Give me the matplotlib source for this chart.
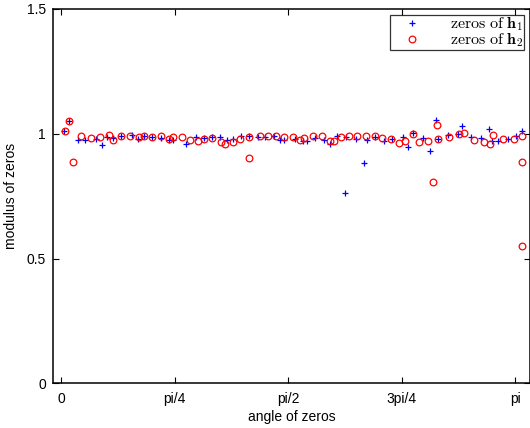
import numpy as np
import matplotlib
matplotlib.use("Agg")
import matplotlib.pyplot as plt

plt.rcParams['font.family'] = ['Liberation Sans', 'DejaVu Sans']
plt.rcParams['mathtext.fontset'] = 'cm'

# Zeros of h1: angle (rad) and modulus
h1_angle = [0.021, 0.055, 0.115, 0.166, 0.240, 0.286, 0.320, 0.362, 0.413, 0.489,
            0.534, 0.576, 0.629, 0.691, 0.745, 0.776, 0.864, 0.931, 0.989, 1.042,
            1.099, 1.150, 1.191, 1.245, 1.300, 1.360, 1.410, 1.473, 1.514, 1.542,
            1.616, 1.673, 1.699, 1.758, 1.820, 1.858, 1.910, 1.964, 1.971, 2.038,
            2.095, 2.114, 2.169, 2.233, 2.289, 2.363, 2.397, 2.432, 2.501, 2.551,
            2.595, 2.605, 2.674, 2.747, 2.771, 2.833, 2.902, 2.959, 2.978, 3.021,
            3.088, 3.146, 3.189]
h1_mod = [1.013, 1.051, 0.977, 0.976, 0.980, 0.955, 0.989, 0.983, 0.992, 0.995,
          0.980, 0.992, 0.988, 0.984, 0.976, 0.977, 0.959, 0.987, 0.985, 0.989,
          0.989, 0.976, 0.981, 0.991, 0.992, 0.989, 0.987, 0.991, 0.977, 0.976,
          0.980, 0.973, 0.970, 0.983, 0.975, 0.960, 0.991, 0.762, 0.989, 0.981,
          0.882, 0.977, 0.987, 0.973, 0.979, 0.987, 0.946, 1.003, 0.984, 0.930,
          1.057, 0.981, 0.996, 1.000, 1.032, 0.989, 0.984, 1.021, 0.972, 0.973,
          0.979, 0.992, 1.013]

# Zeros of h2: angle (rad) and modulus
h2_angle = [0.028, 0.055, 0.081, 0.138, 0.209, 0.272, 0.330, 0.360, 0.413, 0.479,
            0.539, 0.574, 0.631, 0.691, 0.745, 0.776, 0.837, 0.894, 0.945, 0.987,
            1.046, 1.106, 1.136, 1.191, 1.240, 1.300, 1.300, 1.374, 1.433, 1.489,
            1.542, 1.602, 1.655, 1.680, 1.740, 1.802, 1.858, 1.888, 1.936, 1.993,
            2.047, 2.111, 2.169, 2.221, 2.280, 2.337, 2.376, 2.432, 2.477, 2.535,
            2.574, 2.600, 2.609, 2.683, 2.752, 2.786, 2.853, 2.923, 2.968, 2.985,
            3.058, 3.134, 3.189, 3.187, 3.187]
h2_mod = [1.013, 1.051, 0.886, 0.991, 0.985, 0.989, 0.995, 0.976, 0.992, 0.992,
          0.989, 0.992, 0.988, 0.993, 0.979, 0.987, 0.989, 0.975, 0.972, 0.979,
          0.983, 0.967, 0.959, 0.969, 0.981, 0.987, 0.904, 0.991, 0.992, 0.992,
          0.989, 0.987, 0.975, 0.983, 0.993, 0.991, 0.970, 0.973, 0.987, 0.991,
          0.991, 0.992, 0.993, 0.983, 0.979, 0.965, 0.972, 0.999, 0.967, 0.972,
          0.808, 1.036, 0.981, 0.987, 1.000, 1.002, 0.977, 0.969, 0.960, 0.995,
          0.979, 0.979, 0.993, 0.886, 0.549]

x_ticks = [0, np.pi / 4, np.pi / 2, 3 * np.pi / 4, np.pi]
x_ticklabels = ['0', 'pi/4', 'pi/2', '3pi/4', 'pi']
y_ticks = [0, 0.5, 1, 1.5]
y_ticklabels = ['0', '0.5', '1', '1.5']

fig = plt.figure(figsize=(5.30, 4.28), dpi=100)
ax = fig.add_axes([0.100, 0.104, 0.900, 0.875])

ax.plot(h1_angle, h1_mod, linestyle='none', marker='+', color='#0000ff',
        markersize=4.8, markeredgewidth=0.9, label=r'$\mathrm{zeros\ of\ }\mathbf{h}_1$')
ax.plot(h2_angle, h2_mod, linestyle='none', marker='o', color='#ff0000',
        markerfacecolor='none', markersize=4.8, markeredgewidth=0.9,
        label=r'$\mathrm{zeros\ of\ }\mathbf{h}_2$')

ax.set_xlim(-0.0553, 3.2425)
ax.set_ylim(0, 1.5)
ax.set_xticks(x_ticks)
ax.set_xticklabels(x_ticklabels)
ax.set_yticks(y_ticks)
ax.set_yticklabels(y_ticklabels)
ax.tick_params(direction='in', top=True, right=True, length=4, width=0.8,
               labelsize=10)
ax.tick_params(axis='x', pad=6)
ax.tick_params(axis='y', pad=5)

for s in ax.spines.values():
    s.set_linewidth(1.1)

ax.set_xlabel('angle of zeros', fontsize=10, labelpad=3)
ax.set_ylabel('modulus of zeros', fontsize=10, labelpad=6)

leg = ax.legend(loc='upper right', fontsize=11.5, frameon=True, fancybox=False,
                edgecolor='black', borderpad=0.05, handletextpad=1.1,
                labelspacing=-0.1, handlelength=2.6, borderaxespad=0.35)
leg.get_frame().set_linewidth(0.9)

fig.savefig('out.png', dpi=100)
